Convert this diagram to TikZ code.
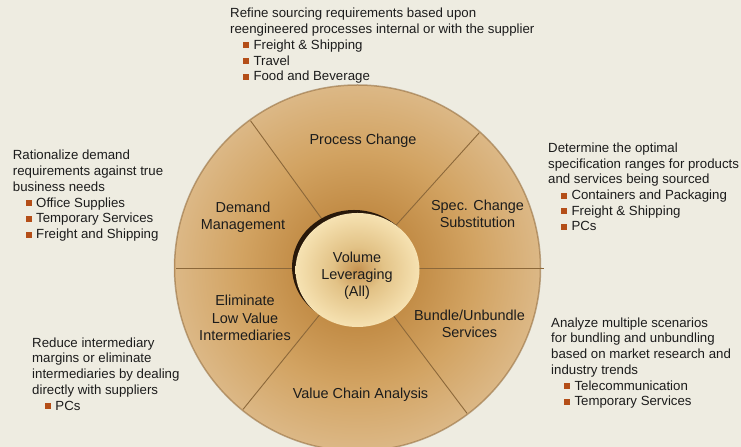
\documentclass[tikz,border=0pt]{standalone}
\usepackage{fontspec}
\setmainfont{Liberation Sans}
\usepackage{xcolor}
\usetikzlibrary{positioning,calc}

\definecolor{paper}{RGB}{238,236,225}
\definecolor{textdark}{RGB}{28,28,28}
\definecolor{bulletrust}{RGB}{180,78,24}
\definecolor{divline}{RGB}{140,104,58}
\definecolor{rimline}{RGB}{150,112,66}
\definecolor{hubshadow}{RGB}{40,24,10}

% sfumature della ruota
\pgfdeclareradialshading{ringshade}{\pgfpoint{0bp}{0bp}}{%
  color(0bp)=(rgb,255:red,185;green,128;blue,60);
  color(8bp)=(rgb,255:red,194;green,140;blue,70);
  color(16bp)=(rgb,255:red,210;green,163;blue,98);
  color(25bp)=(rgb,255:red,220;green,184;blue,134);
  color(50bp)=(rgb,255:red,220;green,184;blue,134)}
\pgfdeclareradialshading{hubshade}{\pgfpoint{0bp}{0bp}}{%
  color(0bp)=(rgb,255:red,198;green,146;blue,80);
  color(10bp)=(rgb,255:red,226;green,194;blue,134);
  color(25bp)=(rgb,255:red,246;green,226;blue,178);
  color(50bp)=(rgb,255:red,246;green,226;blue,178)}

\newcommand{\itm}{\hspace*{13bp}\textcolor{bulletrust}{\raisebox{0.8bp}{\rule{6bp}{6bp}}}\hspace{4.3bp}}

\begin{document}
\begin{tikzpicture}[x=1bp,y=1bp,
    % Stili base
    seglabel/.style={font=\fontsize{14.5}{17.3}\selectfont, align=center, text=textdark, inner sep=0pt},
    note/.style={font=\fontsize{13.3}{15.8}\selectfont, align=left, anchor=north west, text=textdark, inner sep=0pt},
    divider/.style={draw=divline, line width=0.9bp}
]

% === SFONDO ===
\fill[paper] (0,0) rectangle (741,447);
\useasboundingbox (0,0) rectangle (741,447);

\coordinate (wheel) at (357.5,179);
\coordinate (hub) at (357.5,177);

% === RUOTA ===
\begin{scope}
    \clip (0,0) rectangle (741,447);
    \shade[shading=ringshade] (wheel) circle (183);
    \draw[rimline, line width=1.5bp, opacity=0.6] (wheel) circle (183);

    % Divisori
    \draw[divider] (wheel) -- ++(0:186);
    \foreach \a in {48,126,180,231,307}
        \draw[divider] (wheel) -- ++(\a:182);

    % Centro
    \fill[hubshadow] ($(hub)+(-3.5,3)$) ellipse [x radius=62, y radius=57];
    \shade[shading=hubshade] (hub) ellipse [x radius=62, y radius=57];
\end{scope}

% === SETTORI ===
\node[seglabel] (process) at (363,306) {Process Change};
\node[seglabel] (demand) at (243,230) {Demand\\Management};
\node[seglabel] (spec) at (477.5,233) {Spec. Change\\Substitution};
\node[seglabel] (volume) at (357,171) {Volume\\Leveraging\\(All)};
\node[seglabel] (elim) at (245,129) {Eliminate\\Low Value\\Intermediaries};
\node[seglabel] (bundle) at (469.5,123) {Bundle/Unbundle\\Services};
\node[seglabel] (chain) at (360.5,52) {Value Chain Analysis};

% === NOTE ===
\node[note] (noteprocess) at (230,439) {Refine sourcing requirements based upon\\
    reengineered processes internal or with the supplier\\
    \itm Freight \& Shipping\\
    \itm Travel\\
    \itm Food and Beverage};

\node[note] (notedemand) at (12.7,297) {Rationalize demand\\
    requirements against true\\
    business needs\\
    \itm Office Supplies\\
    \itm Temporary Services\\
    \itm Freight and Shipping};

\node[note] (notespec) at (548,304.5) {Determine the optimal\\
    specification ranges for products\\
    and services being sourced\\
    \itm Containers and Packaging\\
    \itm Freight \& Shipping\\
    \itm PCs};

\node[note] (noteelim) at (32,109.7) {Reduce intermediary\\
    margins or eliminate\\
    intermediaries by dealing\\
    directly with suppliers\\
    \itm PCs};

\node[note] (notebundle) at (551,129.7) {Analyze multiple scenarios\\
    for bundling and unbundling\\
    based on market research and\\
    industry trends\\
    \itm Telecommunication\\
    \itm Temporary Services};

\end{tikzpicture}
\end{document}
